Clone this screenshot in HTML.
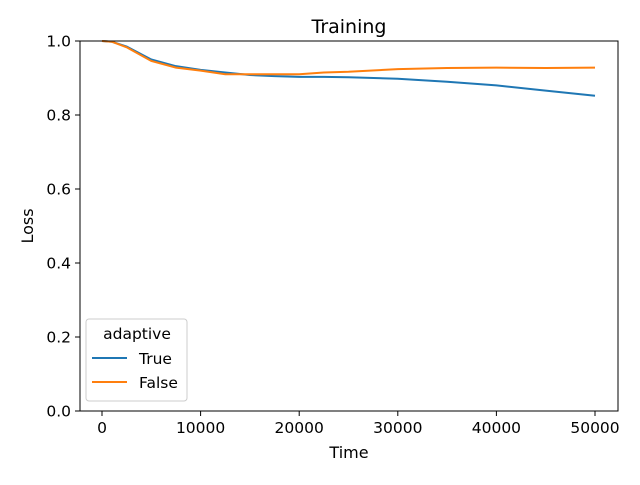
<!DOCTYPE html>
<html><head><meta charset="utf-8"><style>
body{margin:0;background:#fff}
text{font-family:"DejaVu Sans","Liberation Sans",sans-serif;fill:#000}
</style></head><body>
<svg id="c" width="640" height="480" xmlns="http://www.w3.org/2000/svg">
<rect width="640" height="480" fill="#fff"/>
<text x="349" y="33" font-size="19" text-anchor="middle">Training</text>
<g id="ticks"></g>
<g id="series"></g>
<rect x="80" y="41" width="538" height="370" fill="none" stroke="#000" stroke-width="1"/>
<text x="349" y="458" font-size="16" text-anchor="middle">Time</text>
<text x="33" y="226" font-size="16" text-anchor="middle" transform="rotate(-90 33 226)">Loss</text>
<g>
<rect x="86" y="319" width="101" height="82" rx="3" fill="#fff" fill-opacity="0.8" stroke="#ccc"/>
<text x="137" y="339" font-size="15.5" text-anchor="middle">adaptive</text>
<line x1="92" y1="358" x2="127" y2="358" stroke="#1f77b4" stroke-width="2"/>
<text x="139" y="364" font-size="15.5">True</text>
<line x1="92" y1="382" x2="127" y2="382" stroke="#ff7f0e" stroke-width="2"/>
<text x="139" y="388" font-size="15.5">False</text>
</g>
</svg>
<script>
const times=[0,1000,2500,5000,7500,10000,12500,15000,17500,20000,22500,25000,30000,35000,40000,45000,50000];
const trueLoss=[1,0.998,0.985,0.95,0.932,0.922,0.915,0.908,0.905,0.903,0.903,0.902,0.898,0.89,0.88,0.866,0.852];
const falseLoss=[1,0.998,0.983,0.946,0.928,0.92,0.91,0.91,0.91,0.91,0.915,0.917,0.924,0.927,0.928,0.927,0.928];
const xTicks=[0,10000,20000,30000,40000,50000];
const yTicks=[0,0.2,0.4,0.6,0.8,1.0];
const NS='http://www.w3.org/2000/svg';
const xs=v=>102+v*(595-102)/50000;
const ys=v=>411-v*370;
const tg=document.getElementById('ticks'),sg=document.getElementById('series');
function mk(tag,a,p){const e=document.createElementNS(NS,tag);for(const k in a)e.setAttribute(k,a[k]);p.appendChild(e);return e;}
xTicks.forEach(t=>{
 const l=mk('line',{x1:xs(t),x2:xs(t),y1:411,y2:416,stroke:'#000'},tg);
 
 
 const tx=mk('text',{x:xs(t),y:433,'font-size':15.5,'text-anchor':'middle'},tg);tx.textContent=t;
 
 
});
yTicks.forEach(t=>{
 const l=mk('line',{x1:75,x2:80,y1:ys(t),y2:ys(t),stroke:'#000'},tg);
 
 
 const tx=mk('text',{x:71,y:ys(t)+5.5,'font-size':15.5,'text-anchor':'end'},tg);tx.textContent=t.toFixed(1);
 
 
});
function line(vals,color,name){
 const p=mk('polyline',{points:times.map((t,i)=>xs(t)+','+ys(vals[i])).join(' '),fill:'none',stroke:color,'stroke-width':2},sg);
 
 
}
line(trueLoss,'#1f77b4','series-true');
line(falseLoss,'#ff7f0e','series-false');
</script>
</body></html>
